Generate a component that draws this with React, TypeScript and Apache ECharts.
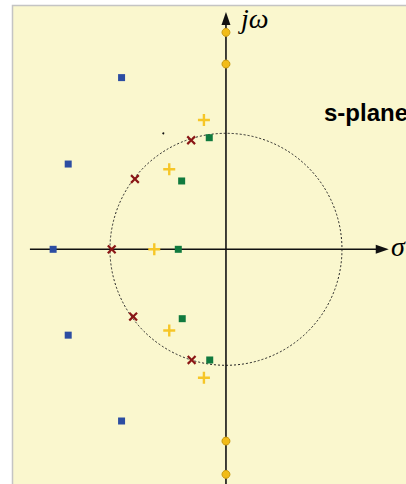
import React, { useEffect, useRef } from "react";
import * as echarts from "echarts";

// s-plane coordinates in units of the dotted unit circle radius
const bluePoints = [
  [-0.9, 1.48],
  [-1.36, 0.735],
  [-1.49, 0],
  [-1.36, -0.74],
  [-0.9, -1.48],
];
const redCrosses = [
  [-0.3, 0.94],
  [-0.785, 0.606],
  [-0.985, 0],
  [-0.8, -0.58],
  [-0.296, -0.954],
];
const yellowPlus = [
  [-0.19, 1.115],
  [-0.489, 0.69],
  [-0.618, 0],
  [-0.489, -0.7],
  [-0.19, -1.107],
];
const greenPoints = [
  [-0.144, 0.962],
  [-0.382, 0.589],
  [-0.411, 0],
  [-0.377, -0.598],
  [-0.14, -0.954],
];
const axisZeros = [
  [0, 1.87],
  [0, 1.597],
  [0, -1.653],
  [0, -1.94],
];
const strayDot = [[-0.54, 1.0]];
const unitCircle = [[0, 0, 1]];
// axis extents: [start, arrow base]
const sigmaAxis = [-1.69, 1.3];
const omegaAxis = [-2.1, 1.942];

const xRange = [-1.948, 1.552];
const yRange = [-2.023, 2.149];

const PLUS = "path://M4,0H6V4H10V6H6V10H4V6H0V4H4Z";

export default function App() {
  const ref = useRef<HTMLDivElement>(null);
  useEffect(() => {
    if (!ref.current) return;
    const chart = echarts.init(ref.current, undefined, { renderer: "svg" });
    const axisColor = "#111";
    chart.setOption({
      animation: false,
      backgroundColor: "#ffffff",
      grid: { left: 0, right: 0, top: 0, bottom: 0 },
      xAxis: { type: "value", min: xRange[0], max: xRange[1], show: false },
      yAxis: { type: "value", min: yRange[0], max: yRange[1], show: false },
      graphic: [
        {
          type: "rect",
          z: -10,
          silent: true,
          shape: { x: 12.5, y: 5.5, width: 420, height: 500 },
          style: { fill: "#FAF7CE", stroke: "#C4C4C4", lineWidth: 1.5 },
        },
        {
          type: "text",
          z: 100,
          style: {
            text: "s-plane",
            x: 324,
            y: 124,
            verticalAlign: "bottom",
            font: 'bold 24px "Liberation Sans", Arial, sans-serif',
            fill: "#000",
          },
        },
        {
          type: "text",
          z: 100,
          style: {
            text: "jω",
            x: 241,
            y: 4,
            verticalAlign: "top",
            font: 'italic 28px "Liberation Serif", "Times New Roman", serif',
            fill: "#000",
          },
        },
        {
          type: "text",
          z: 100,
          style: {
            text: "σ",
            x: 391,
            y: 232,
            verticalAlign: "top",
            font: 'italic 28px "Liberation Serif", "Times New Roman", serif',
            fill: "#000",
          },
        },
      ],
      series: [
        {
          type: "custom",
          silent: true,
          z: 1,
          data: unitCircle,
          renderItem: (params: any, api: any) => {
            const c = api.coord([api.value(0), api.value(1)]);
            const r = api.size([api.value(2), 0])[0];
            return {
              type: "circle",
              shape: { cx: c[0], cy: c[1], r },
              style: { fill: "none", stroke: "#222", lineWidth: 1, lineDash: [2, 2] },
            };
          },
        },
        {
          type: "custom",
          silent: true,
          z: 2,
          data: [[0]],
          renderItem: (params: any, api: any) => {
            const a = api.coord([sigmaAxis[0], 0]);
            const b = api.coord([sigmaAxis[1], 0]);
            const c = api.coord([0, omegaAxis[0]]);
            const d = api.coord([0, omegaAxis[1]]);
            return {
              type: "group",
              children: [
                { type: "line", shape: { x1: a[0], y1: a[1], x2: b[0], y2: b[1] }, style: { stroke: axisColor, lineWidth: 1.6 } },
                {
                  type: "polygon",
                  shape: { points: [[b[0] - 1, b[1] - 4.5], [b[0] + 12, b[1]], [b[0] - 1, b[1] + 4.5]] },
                  style: { fill: axisColor },
                },
                { type: "line", shape: { x1: c[0], y1: c[1], x2: d[0], y2: d[1] }, style: { stroke: axisColor, lineWidth: 1.6 } },
                {
                  type: "polygon",
                  shape: { points: [[d[0] - 4.5, d[1] + 1], [d[0], d[1] - 12], [d[0] + 4.5, d[1] + 1]] },
                  style: { fill: axisColor },
                },
              ],
            };
          },
        },
        {
          type: "scatter",
          z: 5,
          data: bluePoints,
          symbol: "rect",
          symbolSize: 7,
          itemStyle: { color: "#2C4DA2", opacity: 1 },
        },
        {
          type: "scatter",
          z: 5,
          data: greenPoints,
          symbol: "rect",
          symbolSize: 7,
          itemStyle: { color: "#107A3E", opacity: 1 },
        },
        {
          type: "scatter",
          z: 5,
          data: redCrosses,
          symbol: PLUS,
          symbolRotate: 45,
          symbolSize: 11,
          itemStyle: { color: "#8A1616", opacity: 1 },
        },
        {
          type: "scatter",
          z: 5,
          data: yellowPlus,
          symbol: PLUS,
          symbolSize: 12,
          itemStyle: { color: "#F6C627", opacity: 1 },
        },
        {
          type: "scatter",
          z: 6,
          data: axisZeros,
          symbol: "circle",
          symbolSize: 8,
          itemStyle: { color: "#F2BC17", borderColor: "#C99A0E", borderWidth: 1, opacity: 1 },
        },
        {
          type: "scatter",
          z: 5,
          data: strayDot,
          symbol: "circle",
          symbolSize: 2,
          itemStyle: { color: "#111", opacity: 1 },
        },
      ],
    });
    return () => chart.dispose();
  }, []);
  return (
    <div
      ref={ref}
      style={{ position: "fixed", left: 0, top: 0, width: 406, height: 484 }}
    />
  );
}
